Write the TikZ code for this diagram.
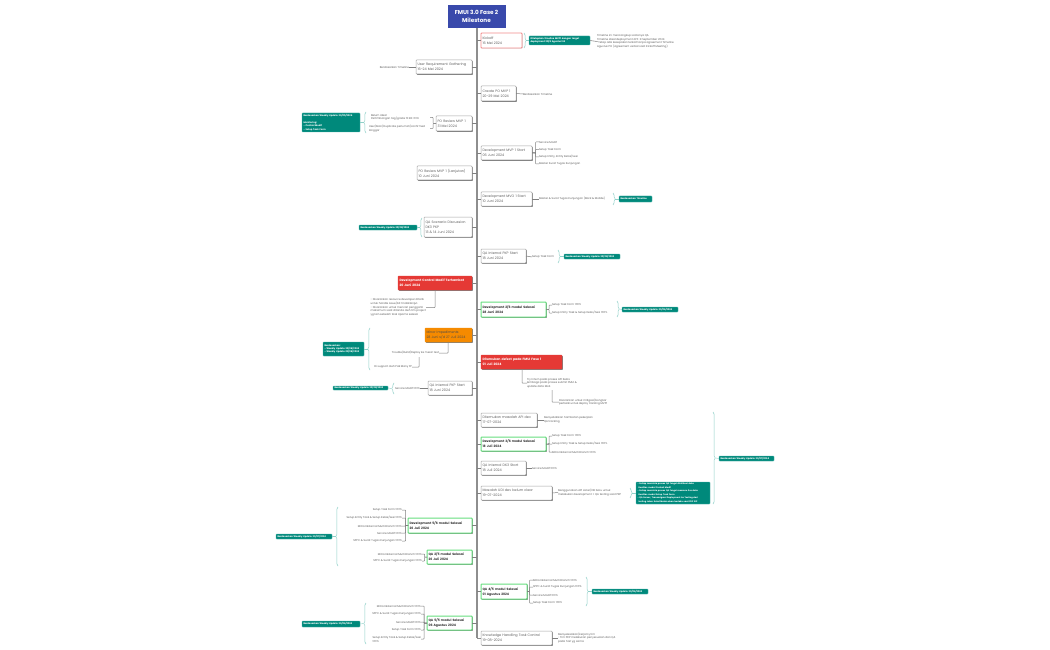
\documentclass[tikz,border=0pt]{standalone}
\usepackage{fontspec}
\setmainfont{Poppins}
\usetikzlibrary{shadows,decorations.pathreplacing,calc}
\definecolor{cteal}{HTML}{00897B}
\definecolor{ctealb}{HTML}{4DB6AC}
\definecolor{cbrace}{HTML}{8FD0C8}
\definecolor{cgreenb}{HTML}{66DE7F}
\definecolor{credb}{HTML}{F28B8B}
\definecolor{cred}{HTML}{E53935}
\definecolor{corg}{HTML}{F58A00}
\definecolor{cblue}{HTML}{3949AB}
\definecolor{ctext}{HTML}{5F5F5F}
\definecolor{cline}{HTML}{808080}
\definecolor{ctrunk}{HTML}{8E8E8E}
\newcommand\bx[7]{%
  \pgfmathsetmacro\cxx{(#2+#4)/2}\pgfmathsetmacro\cyy{-(#3+#5)/2}%
  \pgfmathsetmacro\www{#4-#2}\pgfmathsetmacro\hhh{#5-#3}\pgfmathsetmacro\ttw{#4-#2-3}%
  \node[#6,minimum width=\www pt,minimum height=\hhh pt,text width=\ttw pt] (#1) at (\cxx,\cyy) {#7};}
\newcommand\txl[4]{\node[smalltxt,anchor=west,align=left] (#1) at (#2,-#3) {#4};}
\newcommand\txr[4]{\node[smalltxt,anchor=east,align=left] (#1) at (#2,-#3) {#4};}
% brace with tip to the right / left; end points and tip are named coordinates
\newcommand\brR[4]{\coordinate (#1a) at (#2,-#3);\coordinate (#1b) at (#2,-#4);
  \coordinate (#1t) at ($(#1a)!0.5!(#1b)+(2.4,0)$);
  \draw[bracestyle] (#1a) -- (#1b);}
\newcommand\brL[4]{\coordinate (#1a) at (#2,-#3);\coordinate (#1b) at (#2,-#4);
  \coordinate (#1t) at ($(#1a)!0.5!(#1b)+(-2.4,0)$);
  \draw[bracestyle] (#1b) -- (#1a);}
\tikzset{
  x=1pt,y=1pt,
  base/.style={rounded corners=0.7pt,inner xsep=1.5pt,inner ysep=0pt,align=left,outer sep=0pt},
  sh/.style={general shadow={shadow xshift=0.9pt,shadow yshift=-0.9pt,fill=cline}},
  plainbox/.style={base,sh,draw=black!35,line width=0.5pt,fill=white,text=ctext,font=\fontsize{3.4}{5}\selectfont},
  donebox/.style={base,sh,draw=cgreenb,line width=1pt,fill=white,text=black!80,font=\bfseries\fontsize{3.15}{5}\selectfont},
  kickbox/.style={base,draw=credb,line width=0.9pt,fill=white,text=ctext,font=\fontsize{3.4}{5}\selectfont,general shadow={shadow xshift=0.5pt,shadow yshift=-0.5pt,fill=black!20}},
  redbox/.style={base,sh,draw=cred,fill=cred,text=white,font=\bfseries\fontsize{3.15}{5}\selectfont},
  orgbox/.style={base,sh,draw=corg,fill=corg,text=black!70,font=\fontsize{3.3}{5}\selectfont},
  titlebox/.style={sh,draw=cblue,fill=cblue,text=white,align=center,font=\bfseries\fontsize{5.7}{8}\selectfont,inner sep=0pt,outer sep=0pt},
  gbox/.style={base,draw=ctealb,line width=0.3pt,fill=cteal,text=white,font=\bfseries\fontsize{2.3}{3.4}\selectfont,inner xsep=1pt},
  gboxlong/.style={gbox,font=\bfseries\fontsize{2.12}{3.5}\selectfont},
  smalltxt/.style={inner sep=0pt,outer sep=0pt,text=ctext,font=\fontsize{2.7}{3.6}\selectfont},
  cn/.style={draw=cline,line width=0.5pt,rounded corners=0.6pt},
  trunk/.style={draw=ctrunk,line width=1.7pt},
  bracestyle/.style={draw=cbrace,line width=0.5pt,decorate,decoration={brace,amplitude=2.2pt}},
  tipln/.style={draw=cbrace,line width=0.4pt},
}
\begin{document}
\begin{tikzpicture}
\useasboundingbox[fill=white] (0,0) rectangle (1050,-650);
% trunk
\coordinate (spE) at (477,-638);
\coordinate (spT) at (477,-27);
\draw[trunk] (spT) -- (spE);
\node[titlebox,minimum width=57pt,minimum height=22pt] (title) at (476.5,-16) {FMUI 3.0 Fase 2\\Milestone};
% ---- boxes right of trunk
\bx{kick}{481}{33}{522}{48}{kickbox}{Kickoff\\16 Mei 2024}
\bx{create}{481}{86}{516}{101}{plainbox}{Create PO MVP 1\\20-29 Mei 2024}
\bx{devP}{481}{146}{532}{160}{plainbox}{Development MVP 1 Start\\06 Juni 2024}
\bx{devO}{481}{192}{532}{206}{plainbox}{Development MVO 1 Start\\10 Juni 2024}
\bx{qaP}{481}{249}{526}{263}{plainbox}{QA Internal PKP Start\\18 Juni 2024}
\bx{dev2}{481}{302}{546}{317}{donebox}{Development 2/6 modul Selesai\\28 Juni 2024}
\bx{red2}{481}{355}{562}{369}{redbox}{Ditemukan defect pada FMUI Fase 1\\01 Juli 2024}
\bx{temuan}{481}{413}{537}{427}{plainbox}{Ditemukan masalah API dev\\17-07-2024}
\bx{dev3}{481}{437}{546}{451}{donebox}{Development 3/6 modul Selesai\\18 Juli 2024}
\bx{qaD}{481}{461}{526}{475}{plainbox}{QA Internal DK3 Start\\18 Juli 2024}
\bx{udi}{481}{486}{552}{500}{plainbox}{Masalah UDI dev belum clear\\19-07-2024}
\bx{qa4}{481}{584}{527}{599}{donebox}{QA 4/5 modul Selesai\\01 Agustus 2024}
\bx{know}{481}{631}{552}{645}{plainbox}{Knowledge Handling Task Control\\19-08-2024}
% ---- boxes left of trunk
\bx{urg}{416}{60}{472}{74}{plainbox}{User Requirement Gathering\\16-24 Mei 2024}
\bx{poA}{436}{116}{472}{131}{plainbox}{PO Review MVP 1\\31 Mei 2024}
\bx{poB}{417}{166}{472}{180}{plainbox}{PO Review MVP 1 (Lanjutan)\\10 Juni 2024}
\bx{qaS}{424}{217}{472}{237}{plainbox}{QA Scenario Discussion\\DK3 PKP\\13 \& 14 Juni 2024}
\bx{red1}{398}{276}{472}{290}{redbox}{Development Control Modif Terhambat\\20 Juni 2024}
\bx{minor}{425}{328}{472}{342}{orgbox}{Minor Impediments\\28 Juni s/d 27 Juli 2024}
\bx{qaL}{428}{381}{472}{395}{plainbox}{QA Internal PKP Start\\18 Juni 2024}
\bx{dev5}{408}{518}{472}{533}{donebox}{Development 5/6 modul Selesai\\26 Juli 2024}
\bx{qa2}{427}{550}{472}{564}{donebox}{QA 2/5 modul Selesai\\26 Juli 2024}
\bx{qa5}{427}{616}{472}{630}{donebox}{QA 5/5 modul Selesai\\06 Agustus 2024}
% ---- spine links
\foreach \n in {kick,create,devP,devO,qaP,dev2,red2,temuan,dev3,qaD,udi,qa4}{\draw[cn] (\n.west) -- (\n.west -| spT);}
\foreach \n in {urg,poA,poB,qaS,red1,minor,qaL,dev5,qa2,qa5}{\draw[cn] (\n.east) -- (\n.east -| spT);}
\draw[cn,draw=ctrunk,line width=0.9pt] (spE) -- (know.west |- spE);
% ---- kickoff
\brR{bKick}{524}{33}{48}
\bx{gKick}{529}{36}{590}{45}{gbox}{Ditetapkan timeline MVP1 dengan target\\deployment 29/8 Agustus'24}
\txl{tKick}{597}{41.5}{Timeline ini mencangkup scalanya QA\\Timeline ideal deployment di 5-9 September 2024\\*Tetap ada kesepakan terkait tanpa agreement Timeline\\Agustus PO (Agreement verbal saat Kickoff Meeting)}
\draw[tipln] (bKickt) -- (gKick.west);
\draw[cn] (gKick.east) -- (tKick.west);
% ---- simple labels
\txr{tUrg}{409}{67}{Berdasarkan Timeline}\draw[cn] (urg.west) -- (tUrg.east);
\txl{tCreate}{523}{94}{Berdasarkan Timeline}\draw[cn] (create.east) -- (tCreate.west);
% ---- PO review
\txl{tPo1}{371}{117.5}{Belum ideal\\Pertimbangan tag/grade fit ER-009}
\txl{tPo2}{369}{128.5}{User/Man/Duplicate perlu hati/confirmed\\langgar}
\coordinate (xPo) at (430,0);
\draw[cn] (poA.west) -- ++(-3,0) |- (tPo1.east -| xPo);
\draw[cn] (poA.west) -- ++(-3,0) |- (tPo2.east -| xPo);
\brL{bPo}{366}{112}{133}
\bx{gPo}{302}{113}{360}{132}{gbox}{Berdasarkan Weekly Update 30/05/2024\\\phantom{x}\\Monitoring:\\- Central Modif\\- Setup Task Form}
\draw[tipln] (bPot) -- (gPo.east);
% ---- dev P
\txl{tD1}{539}{142}{Service Modif}
\txl{tD2}{539}{149.5}{Setup Task Form}
\txl{tD3}{539}{157}{Setup Entity, Entity Kelas/Sesi}
\txl{tD4}{539}{164}{Master Surat Tugas Kunjungan}
\foreach \n in {tD1,tD2,tD3,tD4}{\draw[cn] (devP.east) -- ++(3.5,0) |- (\n.west);}
% ---- dev O
\txl{tO}{539}{199}{Master \& Surat Tugas Kunjungan (Back \& Mobile)}
\draw[cn] (devO.east) -- (tO.west);
\brR{bO}{613}{193}{205}
\bx{gO}{619}{196}{652}{202}{gbox}{Berdasarkan Timeline}
\draw[tipln] (bOt) -- (gO.west);
% ---- QA P
\txl{tQP}{532}{257}{Setup Task Form}
\draw[cn] (qaP.east) -- (tQP.west);
\brR{bQP}{558}{250}{263}
\bx{gQP}{564}{254}{620}{259}{gbox}{Berdasarkan Weekly Update 20/06/2024}
\draw[tipln] (bQPt) -- (gQP.west);
% ---- QA scenario
\brL{bQS}{422}{218}{237}
\bx{gQS}{359}{225}{417}{230}{gbox}{Berdasarkan Weekly Update 20/06/2024}
\draw[tipln] (bQSt) -- (gQS.east);
% ---- red 1
\txr{tR1}{426}{307.5}{- Disarankan resource developer ditarik\\untuk handle issue/bit tindaklanjut.\\- Disarankan untuk mencari pengganti\\maksimum saat ditanda oleh tim project\\yg lain sebelah task Upama selesai}
\coordinate (xR1) at (435,0);
\draw[cn] (red1.south -| xR1) |- (tR1.east);
% ---- dev 2
\txl{tD2a}{552}{305}{Setup Task Form 100\%}
\txl{tD2b}{552}{313}{Setup Entity Task \& Setup Kelas/Sesi 100\%}
\foreach \n in {tD2a,tD2b}{\draw[cn] (dev2.east) -- ++(3,0) |- (\n.west);}
\brR{bD2}{617}{301}{317}
\bx{gD2}{622}{307}{678}{312}{gbox}{Berdasarkan Weekly Update 30/06/2024}
\draw[tipln] (bD2t) -- (gD2.west);
% ---- minor
\txr{tM1}{439}{353}{Trouble/Build/Deploy ke mesin test}
\txr{tM2}{412}{367}{Di support oleh Pak Many FP}
\coordinate (xM) at (448,0);
\draw[cn] (minor.south -| xM) |- (tM1.east);
\coordinate (mJ) at (419,-357);
\draw[cn] (mJ) |- (tM2.east);
\brL{bM}{370}{328}{370}
\bx{gM}{323}{342}{364}{356}{gbox}{Berdasarkan:\\- Weekly Update 20/06/2024\\- Weekly Update 02/06/2024}
\draw[tipln] (bMt) -- (gM.east);
% ---- QA L
\txr{tQL}{420}{388}{Service Modif 100\%}
\draw[cn] (qaL.west) -- (tQL.east);
\brL{bQL}{394}{383}{394}
\bx{gQL}{333}{386}{388}{390}{gbox}{Berdasarkan Weekly Update 20/06/2024}
\draw[tipln] (bQLt) -- (gQL.east);
% ---- red 2
\txl{tR2a}{527}{383}{Try Intern pada proses API Kelas\\lembaga pada proses submit FMUI \&\\update data MoS}
\txl{tR2b}{559}{402}{Disarankan untuk mitigasi/bongkar\\perbaiki untuk deploy tracking MVP1}
\coordinate (xR2) at (522,0);
\coordinate (r2J) at (552,-390);
\draw[cn] (red2.south -| xR2) |- (tR2a.west);
\draw[cn] (r2J) |- (tR2b.west);
% ---- temuan etc.
\txl{tT}{544}{420}{Menyebabkan hambatan pekerjaan\\QA tracking}
\draw[cn] (temuan.east) -- (tT.west);
\txl{tD3a}{552}{436}{Setup Task Form 100\%}
\txl{tD3b}{552}{444}{Setup Entity Task \& Setup Kelas/Sesi 100\%}
\txl{tD3c}{552}{452}{Mitra Eksternal Multi Branch 100\%}
\foreach \n in {tD3a,tD3b,tD3c}{\draw[cn] (dev3.east) -- ++(3,0) |- (\n.west);}
\txl{tQD}{532}{468}{Service Modif 100\%}
\draw[cn] (qaD.east) -- (tQD.west);
\txl{tU}{558}{492.5}{Menggunakan API sister/DB baru untuk\\melakukan development + QA testing saat PKP}
\draw[cn] (udi.east) -- (tU.west);
\brR{bU}{630}{488}{498}
\bx{gU}{636}{482}{710}{504}{gboxlong}{- Setiap meminta proses QA fungsi distribusi data\\\hspace*{1pt}Kualitas modul Central Modif\\- Setiap meminta proses QA fungsi measure live data\\\hspace*{1pt}Kualitas modul Setup Task Form\\- QA Server, Transmigrasi Deployment ke Testing dari\\\hspace*{1pt}testing Jalan Keterlibatan akan berlaku saat PKP SIP}
\draw[tipln] (bUt) -- (gU.west);
\brR{bBig}{713}{412}{504}
\bx{gBig}{719}{456}{774}{461}{gbox}{Berdasarkan Weekly Update 30/07/2024}
\draw[tipln] (bBigt) -- (gBig.west);
% ---- dev 5
\txr{t5a}{402}{510}{Setup Task Form 100\%}
\txr{t5b}{402}{518}{Setup Entity Task \& Setup Kelas/Sesi 100\%}
\txr{t5c}{402}{526}{Mitra Eksternal Multi Branch 100\%}
\txr{t5d}{402}{533}{Service Modif 100\%}
\txr{t5e}{402}{541}{SPPC \& Surat Tugas Kunjungan 100\%}
\foreach \n in {t5a,t5b,t5c,t5d,t5e}{\draw[cn] (dev5.west) -- ++(-2.5,0) |- (\n.east);}
% ---- qa 2
\txr{t2a}{422}{554}{Mitra Eksternal Multi Branch 100\%}
\txr{t2b}{422}{561}{SPPC \& Surat Tugas Kunjungan 100\%}
\foreach \n in {t2a,t2b}{\draw[cn] (qa2.west) -- ++(-2.5,0) |- (\n.east);}
\brL{b52}{338}{507}{566}
\bx{g52}{276}{534}{332}{539}{gbox}{Berdasarkan Weekly Update 30/07/2024}
\draw[tipln] (b52t) -- (g52.east);
% ---- qa 4
\txl{t4a}{533}{580}{Mitra Eksternal Multi Branch 100\%}
\txl{t4b}{533}{587}{SPPC \& Surat Tugas Kunjungan 100\%}
\txl{t4c}{533}{595}{Service Modif 100\%}
\txl{t4d}{533}{603}{Setup Task Form 100\%}
\foreach \n in {t4a,t4b,t4c,t4d}{\draw[cn] (qa4.east) -- ++(2.5,0) |- (\n.west);}
\brR{b4}{586}{577}{606}
\bx{g4}{592}{589}{648}{594}{gbox}{Berdasarkan Weekly Update 30/06/2024}
\draw[tipln] (b4t) -- (g4.west);
% ---- qa 5
\txr{t55a}{421}{606}{Mitra Eksternal Multi Branch 100\%}
\txr{t55b}{421}{614}{SPPC \& Surat Tugas Kunjungan 100\%}
\txr{t55c}{421}{622}{Service Modif 100\%}
\txr{t55d}{421}{630}{Setup Task Form 100\%}
\txr{t55e}{421}{639}{Setup Entity Task \& Setup Kelas/Sesi\\100\%}
\foreach \n in {t55a,t55b,t55c,t55d,t55e}{\draw[cn] (qa5.west) -- ++(-3,0) |- (\n.east);}
\brL{b55}{366}{603}{644}
\bx{g55}{302}{621}{360}{627}{gbox}{Berdasarkan Weekly Update 30/06/2024}
\draw[tipln] (b55t) -- (g55.east);
% ---- knowledge
\txl{tK}{558}{638}{Menyelesaikan/kerja by tim\\- Tim PKP melakukan penyesuaian dan QA\\pada hari yg sama}
\draw[cn] (know.east) -- (tK.west);
\end{tikzpicture}
\end{document}
